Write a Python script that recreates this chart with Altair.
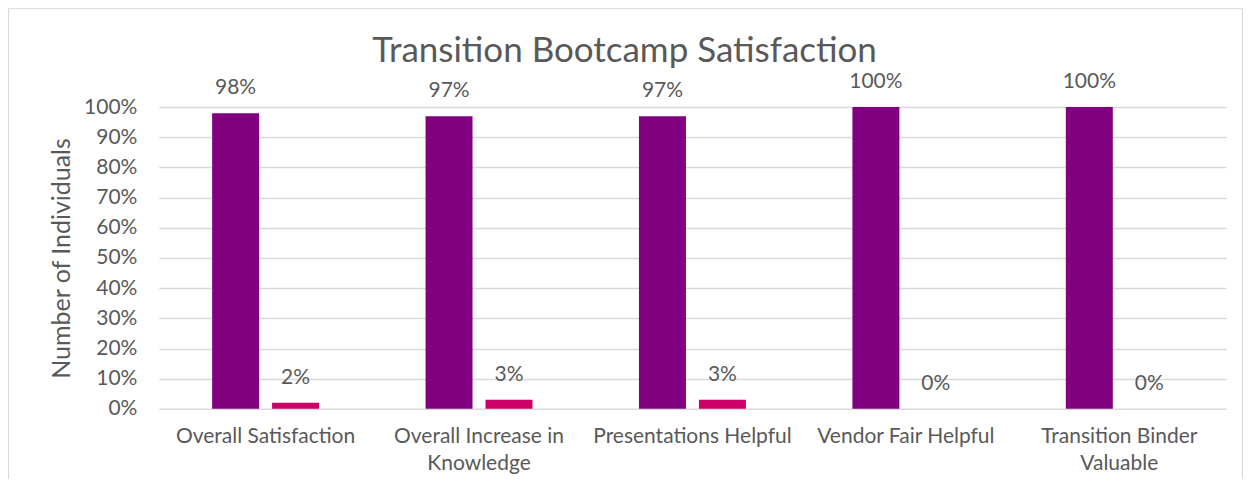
import altair as alt
import pandas as pd

categories = ["Overall Satisfaction", "Overall Increase in Knowledge",
              "Presentations Helpful", "Vendor Fair Helpful",
              "Transition Binder Valuable"]
series = ["Yes", "No"]
yes_values = [0.98, 0.97, 0.97, 1.00, 1.00]
no_values = [0.02, 0.03, 0.03, 0.00, 0.00]
y_ticks = [0, 0.1, 0.2, 0.3, 0.4, 0.5, 0.6, 0.7, 0.8, 0.9, 1.0]

rows = []
for c, a, b in zip(categories, yes_values, no_values):
    rows.append({"category": c, "series": "Yes", "value": a})
    rows.append({"category": c, "series": "No", "value": b})
df = pd.DataFrame(rows)

FONT = "Lato"
GREY = "#595959"

x_enc = alt.X("category:N", sort=categories, title=None,
              scale=alt.Scale(paddingInner=0, paddingOuter=0),
              axis=alt.Axis(labelFontSize=21, labelFont=FONT, labelColor=GREY,
                            labelAngle=0, ticks=False, domain=False, labelPadding=17,
                            labelLineHeight=27, labelLimit=300,
                            labelExpr="datum.value == 'Overall Increase in Knowledge' ? ['Overall Increase in','Knowledge'] : datum.value == 'Transition Binder Valuable' ? ['Transition Binder','Valuable'] : datum.label"))
xoff = alt.XOffset("series:N", sort=series,
                   scale=alt.Scale(paddingInner=0.2167, paddingOuter=0.888))
y_enc = alt.Y("value:Q", scale=alt.Scale(domain=[0, 1], nice=False),
              title="Number of Individuals",
              axis=alt.Axis(values=y_ticks, tickCount=30, labelOverlap=False,
                            format=".0%", labelFontSize=21,
                            labelFont=FONT, labelColor=GREY, ticks=False,
                            domain=False, labelPadding=22, gridColor="#D9D9D9",
                            gridWidth=1.5, titleFontSize=25, titleFont=FONT,
                            titleColor=GREY, titleFontWeight="normal",
                            titlePadding=9))

base = alt.Chart(df)

bars = base.mark_bar().encode(
    x=x_enc, xOffset=xoff, y=y_enc,
    color=alt.Color("series:N", sort=series,
                    scale=alt.Scale(domain=series, range=["#800080", "#CC0066"]),
                    legend=None),
)

labels = base.mark_text(dy=-25, baseline="middle", fontSize=21, font=FONT,
                        color=GREY).encode(
    x=alt.X("category:N", sort=categories), xOffset=xoff,
    y=alt.Y("value:Q"),
    text=alt.Text("value:Q", format=".0%"),
)

title = alt.Chart(pd.DataFrame({"t": ["Transition Bootcamp Satisfaction"]})).mark_text(
    fontSize=35, font=FONT, color=GREY, baseline="alphabetic", align="center"
).encode(x=alt.value(466), y=alt.value(-45), text="t:N")

border = alt.Chart(pd.DataFrame({"a": [0]})).mark_rect(
    fill=None, stroke="#D9D9D9", strokeWidth=1
).encode(x=alt.value(-150.5), x2=alt.value(1084.5), y=alt.value(-98.5), y2=alt.value(500))

chart = alt.layer(border, bars, labels, title).properties(
    width=1068, height=302,
    autosize=alt.AutoSizeParams(type="none"),
    padding={"left": 151, "top": 99, "right": 18, "bottom": 70},
).configure_view(stroke=None)

chart.save("out.html", embed_options={"renderer": "svg", "actions": False})
